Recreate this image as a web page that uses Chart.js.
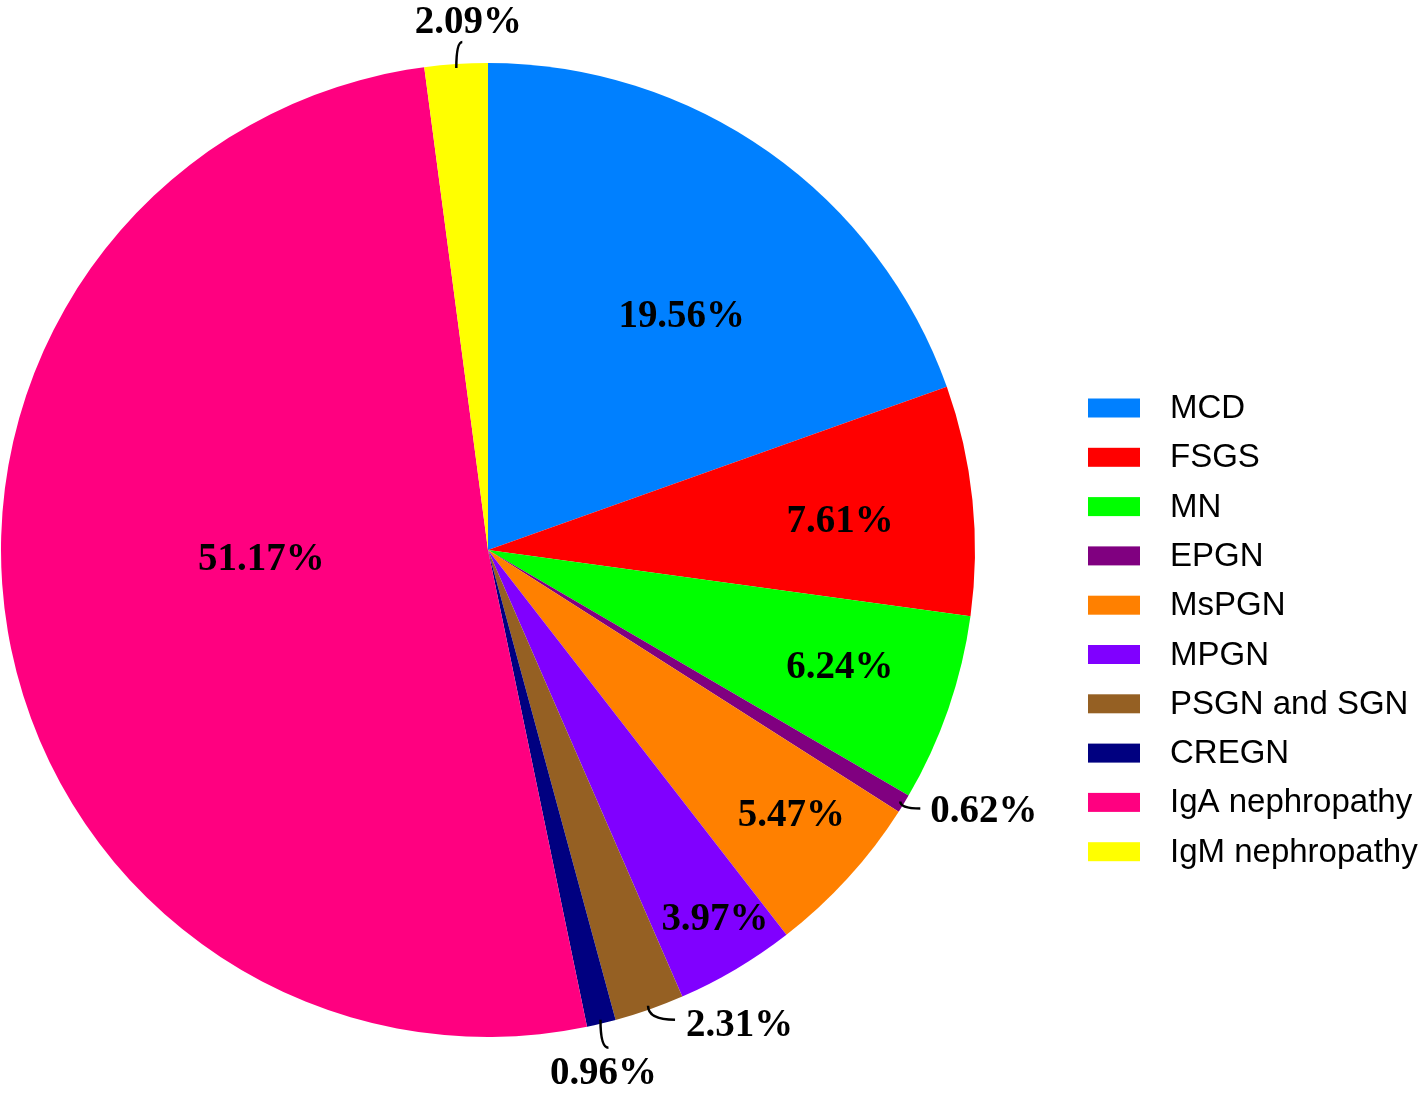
<!DOCTYPE html>
<html>
<head>
<meta charset="utf-8">
<script src="https://cdn.jsdelivr.net/npm/chart.js@4/dist/chart.umd.min.js"></script>
<style>
  body { margin: 0; background: #fff; }
  canvas { display: block; }
</style>
</head>
<body>
<canvas id="pieChart" width="1418" height="1094"></canvas>
<script>
// data (percent of cases)
const categories = ["MCD", "FSGS", "MN", "EPGN", "MsPGN", "MPGN", "PSGN and SGN", "CREGN", "IgA nephropathy", "IgM nephropathy"];
const percents = [19.56, 7.61, 6.24, 0.62, 5.47, 3.97, 2.31, 0.96, 51.17, 2.09];
const colors = ["#0080ff", "#ff0000", "#00ff00", "#800080", "#ff8000", "#8000ff", "#956023", "#000080", "#ff0080", "#ffff00"];

// where each percent label goes: inside = [radius fraction, angle shift in deg]
// outside = leader line offset from arc edge + text offset from the line end
const labelPlacement = [
    { inside: [0.62, 4.7] },
    { inside: [0.725, 1.5] },
    { inside: [0.763, -0.3] },
    { leader: [20, 7], text: [10, 3], align: "left" },
    { inside: [0.83, -1] },
    { inside: [0.893, -0.8] },
    { leader: [27, 14], text: [11, 6], align: "left" },
    { leader: [8, 28], text: [-5, 26], align: "center" },
    { inside: [0.466, 6.8] },
    { leader: [6, -26], text: [6, -20], align: "center" }
];

function drawLabel(ctx, txt, x, y, align) {
    // the figure's serif digits are a bit taller than plain Times
    ctx.save();
    ctx.translate(x, y);
    ctx.scale(0.95, 1);
    ctx.textAlign = align;
    ctx.fillText(txt, 0, 0);
    ctx.restore();
}

const pieLabels = {
    id: "pieLabels",
    afterDatasetsDraw(chart) {
        const ctx = chart.ctx;
        const arcs = chart.getDatasetMeta(0).data;
        ctx.save();
        ctx.font = "bold 41px 'Liberation Serif', 'Times New Roman', serif";
        ctx.fillStyle = "#000";
        ctx.strokeStyle = "#000";
        ctx.lineWidth = 2.5;
        ctx.textBaseline = "middle";
        arcs.forEach((arc, i) => {
            const p = arc.getProps(["x", "y", "startAngle", "endAngle", "outerRadius"], true);
            const mid = (p.startAngle + p.endAngle) / 2;
            const txt = percents[i].toFixed(2) + "%";
            const place = labelPlacement[i];
            if (place.inside) {
                const a = mid + place.inside[1] * Math.PI / 180;
                const r = p.outerRadius * place.inside[0];
                drawLabel(ctx, txt, p.x + Math.cos(a) * r, p.y + Math.sin(a) * r - 2, "center");
            } else {
                const sx = p.x + Math.cos(mid) * (p.outerRadius - 4);
                const sy = p.y + Math.sin(mid) * (p.outerRadius - 4);
                const ex = sx + place.leader[0];
                const ey = sy + place.leader[1];
                ctx.beginPath();
                ctx.moveTo(sx, sy);
                ctx.quadraticCurveTo(sx, ey, ex, ey);
                ctx.stroke();
                drawLabel(ctx, txt, ex + place.text[0], ey + place.text[1], place.align);
            }
        });
        ctx.restore();
    }
};

const sideLegend = {
    id: "sideLegend",
    afterDraw(chart) {
        const ctx = chart.ctx;
        const x0 = 1088, y0 = 408, step = 49.3;
        ctx.save();
        ctx.font = "33px 'Liberation Sans', Arial, sans-serif";
        ctx.textBaseline = "middle";
        ctx.textAlign = "left";
        categories.forEach((name, i) => {
            const y = y0 + i * step;
            ctx.fillStyle = colors[i];
            ctx.fillRect(x0, y - 9.5, 52, 19);
            ctx.fillStyle = "#000";
            ctx.fillText(name, x0 + 82, y + 1);
        });
        ctx.restore();
    }
};

const ctx = document.getElementById("pieChart").getContext("2d");
new Chart(ctx, {
    type: "pie",
    data: {
        labels: categories,
        datasets: [{
            data: percents,
            backgroundColor: colors,
            borderWidth: 0
        }]
    },
    options: {
        responsive: false,
        animation: false,
        layout: { padding: { left: 1, top: 63, right: 443, bottom: 57 } },
        plugins: {
            legend: { display: false },
            tooltip: { enabled: false }
        }
    },
    plugins: [pieLabels, sideLegend]
});
</script>
</body>
</html>
